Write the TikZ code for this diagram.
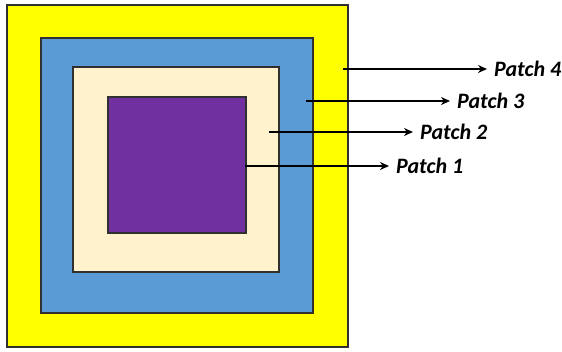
\documentclass[tikz,border=0pt]{standalone}
\usepackage{fontspec}
\setmainfont{Carlito}
\usetikzlibrary{arrows.meta}
\definecolor{pyellow}{HTML}{FFFF00}
\definecolor{pblue}{HTML}{5B9BD5}
\definecolor{pcream}{HTML}{FFF2CC}
\definecolor{ppurple}{HTML}{7030A0}
\definecolor{pedge}{HTML}{303030}
\begin{document}
\begin{tikzpicture}[x=1pt,y=-1pt,
  patch/.style={draw=pedge,line width=1.2pt},
  lbl/.style={anchor=west,inner sep=0pt,font=\fontsize{22}{26}\selectfont\bfseries\itshape},
  arr/.style={line width=1.8pt,-{Stealth[length=9pt,width=8pt]}}]
\useasboundingbox (0,0) rectangle (562,352);
\filldraw[patch,fill=pyellow] (7,5) rectangle (348,347);
\filldraw[patch,fill=pblue] (41,38) rectangle (313,313);
\filldraw[patch,fill=pcream] (73,67) rectangle (279,272);
\filldraw[patch,fill=ppurple] (108,97) rectangle (246,233);
\coordinate (s4) at (343,69);
\coordinate (s3) at (306,101);
\coordinate (s2) at (269,132);
\coordinate (s1) at (245,166);
\node[lbl] (p4) at (494,69) {Patch 4};
\node[lbl] (p3) at (457,101) {Patch 3};
\node[lbl] (p2) at (420,132) {Patch 2};
\node[lbl] (p1) at (396,166) {Patch 1};
\draw[arr] (s4) -- ([xshift=-7pt]p4.west);
\draw[arr] (s3) -- ([xshift=-7pt]p3.west);
\draw[arr] (s2) -- ([xshift=-7pt]p2.west);
\draw[arr] (s1) -- ([xshift=-7pt]p1.west);
\end{tikzpicture}
\end{document}
